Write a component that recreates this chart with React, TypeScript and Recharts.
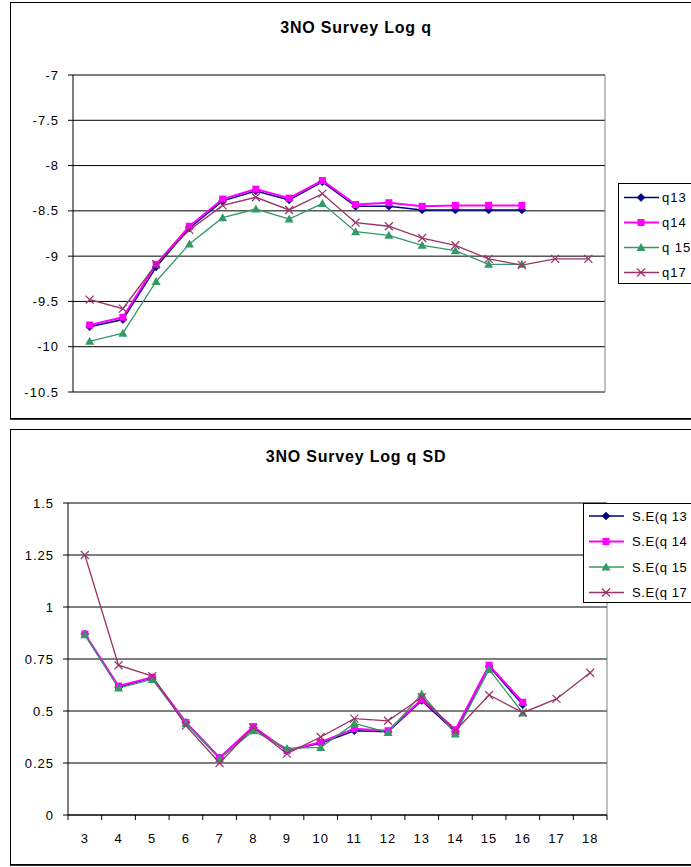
import React from 'react';
import { LineChart, Line, XAxis, YAxis, CartesianGrid, ReferenceLine } from 'recharts';

const categories = [3, 4, 5, 6, 7, 8, 9, 10, 11, 12, 13, 14, 15, 16, 17, 18];

const logQ13 = [-9.78, -9.7, -9.12, -8.69, -8.39, -8.28, -8.38, -8.18, -8.45, -8.45, -8.49, -8.49, -8.49, -8.49, null, null];
const logQ14 = [-9.76, -9.675, -9.09, -8.67, -8.37, -8.26, -8.36, -8.165, -8.43, -8.41, -8.45, -8.44, -8.44, -8.44, null, null];
const logQ15 = [-9.94, -9.85, -9.28, -8.865, -8.575, -8.48, -8.59, -8.42, -8.73, -8.77, -8.88, -8.94, -9.09, -9.09, null, null];
const logQ17 = [-9.48, -9.58, -9.09, -8.71, -8.44, -8.35, -8.49, -8.31, -8.63, -8.67, -8.8, -8.88, -9.03, -9.1, -9.03, -9.03];

const sdQ13 = [0.87, 0.615, 0.66, 0.445, 0.275, 0.42, 0.31, 0.345, 0.405, 0.4, 0.55, 0.4, 0.715, 0.53, null, null];
const sdQ14 = [0.87, 0.62, 0.662, 0.445, 0.275, 0.425, 0.31, 0.35, 0.415, 0.405, 0.556, 0.41, 0.72, 0.542, null, null];
const sdQ15 = [0.866, 0.61, 0.652, 0.44, 0.27, 0.405, 0.32, 0.325, 0.44, 0.397, 0.582, 0.39, 0.7, 0.49, null, null];
const sdQ17 = [1.25, 0.72, 0.668, 0.43, 0.25, 0.42, 0.295, 0.375, 0.463, 0.453, 0.566, 0.405, 0.577, 0.492, 0.558, 0.684];

const logTicks = [-10.5, -10, -9.5, -9, -8.5, -8, -7.5, -7];
const sdTicks = [0, 0.25, 0.5, 0.75, 1, 1.25, 1.5];

const topTitle = '3NO Survey Log q';
const bottomTitle = '3NO Survey Log q SD';
const topNames = ['q13', 'q14', 'q 15', 'q17'];
const bottomNames = ['S.E(q 13', 'S.E(q 14', 'S.E(q 15', 'S.E(q 17'];
const seriesKeys = ['q13', 'q14', 'q15', 'q17'];
const colors = ['#000080', '#FF00FF', '#339966', '#993366'];
const shapes = ['diamond', 'square', 'triangle', 'cross'];
const widths = [1.5, 2, 1.3, 1.3];

const FONT = 'Liberation Sans, Arial, sans-serif';

const xMin = categories[0] - 0.5;
const xMax = categories[categories.length - 1] + 0.5;
const xTicks = [...categories, ...categories.map((c) => c - 0.5), xMax].sort((a, b) => a - b);

const topData = categories.map((c, i) => ({ x: c, q13: logQ13[i], q14: logQ14[i], q15: logQ15[i], q17: logQ17[i] }));
const bottomData = categories.map((c, i) => ({ x: c, q13: sdQ13[i], q14: sdQ14[i], q15: sdQ15[i], q17: sdQ17[i] }));

function Marker({ shape, color, cx, cy }: { shape: string; color: string; cx: number; cy: number }) {
  if (shape === 'diamond') {
    return <polygon points={`${cx},${cy - 4} ${cx + 4},${cy} ${cx},${cy + 4} ${cx - 4},${cy}`} fill={color} stroke={color} strokeWidth={0.5} />;
  }
  if (shape === 'square') {
    return <rect x={cx - 3.5} y={cy - 3.5} width={7} height={7} fill={color} />;
  }
  if (shape === 'triangle') {
    return <polygon points={`${cx},${cy - 4.5} ${cx + 4.5},${cy + 3.5} ${cx - 4.5},${cy + 3.5}`} fill={color} />;
  }
  return (
    <g stroke={color} strokeWidth={1.2}>
      <line x1={cx - 4} y1={cy - 4} x2={cx + 4} y2={cy + 4} />
      <line x1={cx - 4} y1={cy + 4} x2={cx + 4} y2={cy - 4} />
    </g>
  );
}

const makeDot = (shape: string, color: string) => (p: any) => {
  const k = `${shape}-${p.index}`;
  if (p.cx == null || p.cy == null || p.value == null || (Array.isArray(p.value) && p.value[1] == null)) return <g key={k} />;
  return (
    <g key={k}>
      <Marker shape={shape} color={color} cx={p.cx} cy={p.cy} />
    </g>
  );
};

const catTick = (props: any) => {
  const { x, y, payload } = props;
  const v = payload.value;
  if (Number.isInteger(v)) {
    return (
      <text x={x} y={y + 23} dy="0.355em" textAnchor="middle" fill="#000" fontSize={13} fontFamily={FONT} letterSpacing={1}>
        {v}
      </text>
    );
  }
  return <line x1={x} y1={y} x2={x} y2={y + 5} stroke="#000" />;
};

const yTickStyle = { fill: '#000', fontSize: 13, fontFamily: FONT, letterSpacing: 1 };

function LegendBox({ left, top, height, names, firstY, gap, textX, spacing }: any) {
  return (
    <div style={{ position: 'absolute', left, top, width: 120, height, border: '1px solid #000', background: '#fff', boxSizing: 'border-box' }}>
      <svg width={120} height={height} style={{ position: 'absolute', left: -1, top: -1 }}>
        {names.map((n: string, i: number) => {
          const y = firstY + i * gap;
          return (
            <g key={n}>
              <line x1={6} y1={y} x2={41} y2={y} stroke={colors[i]} strokeWidth={widths[i]} />
              <Marker shape={shapes[i]} color={colors[i]} cx={23} cy={y} />
              <text x={textX} y={y} dy="0.355em" fontSize={13} fontFamily={FONT} letterSpacing={spacing} fill="#000">
                {n}
              </text>
            </g>
          );
        })}
      </svg>
    </div>
  );
}

function renderLines() {
  return seriesKeys.map((k, i) => (
    <Line
      key={k}
      type="linear"
      dataKey={k}
      stroke={colors[i]}
      strokeWidth={widths[i]}
      dot={makeDot(shapes[i], colors[i])}
      activeDot={false}
      isAnimationActive={false}
    />
  ));
}

export default function App() {
  return (
    <div style={{ position: 'absolute', left: 0, top: 0, width: 691, height: 867, overflow: 'hidden', background: '#fff' }}>
      <svg width={691} height={867} style={{ position: 'absolute', left: 0, top: 0 }}>
        <rect x={10.5} y={2.5} width={720} height={416} fill="#fff" stroke="#000" />
        <line x1={10} y1={419.5} x2={720} y2={419.5} stroke="#333" />
        <rect x={10.5} y={429.5} width={720} height={435} fill="#fff" stroke="#000" />
        <line x1={10} y1={865.5} x2={720} y2={865.5} stroke="#333" />
        <text x={356} y={27} dy="0.355em" textAnchor="middle" fontSize={16} fontWeight="bold" fontFamily={FONT} letterSpacing={0.8}>
          {topTitle}
        </text>
        <text x={356} y={456} dy="0.355em" textAnchor="middle" fontSize={16} fontWeight="bold" fontFamily={FONT} letterSpacing={0.8}>
          {bottomTitle}
        </text>
      </svg>

      <div style={{ position: 'absolute', left: 0, top: 0 }}>
        <LineChart width={691} height={400} data={topData} margin={{ top: 75, right: 86, bottom: 8, left: 0 }}>
          <CartesianGrid vertical={false} stroke="#000" />
          <XAxis
            dataKey="x"
            type="number"
            domain={[xMin, xMax]}
            ticks={xTicks}
            interval={0}
            orientation="top"
            mirror
            height={0}
            tickSize={0}
            tickMargin={0}
            tickLine={false}
            axisLine={{ stroke: '#000' }}
            tick={catTick}
          />
          <YAxis
            type="number"
            domain={[logTicks[0], logTicks[logTicks.length - 1]]}
            ticks={logTicks}
            interval={0}
            width={73}
            tickSize={5}
            tickMargin={9}
            axisLine={{ stroke: '#000' }}
            tickLine={{ stroke: '#000' }}
            tick={yTickStyle}
          />
          <ReferenceLine x={xMax} stroke="#808080" />
          <ReferenceLine y={logTicks[0]} stroke="#808080" />
          {renderLines()}
        </LineChart>
      </div>

      <div style={{ position: 'absolute', left: 0, top: 430 }}>
        <LineChart width={691} height={430} data={bottomData} margin={{ top: 73, right: 84, bottom: 15, left: 0 }}>
          <CartesianGrid vertical={false} stroke="#000" />
          <XAxis
            dataKey="x"
            type="number"
            domain={[xMin, xMax]}
            ticks={xTicks}
            interval={0}
            height={30}
            tickSize={0}
            tickMargin={0}
            tickLine={false}
            axisLine={{ stroke: '#000' }}
            tick={catTick}
          />
          <YAxis
            type="number"
            domain={[sdTicks[0], sdTicks[sdTicks.length - 1]]}
            ticks={sdTicks}
            interval={0}
            width={68}
            tickSize={5}
            tickMargin={9}
            axisLine={{ stroke: '#000' }}
            tickLine={{ stroke: '#000' }}
            tick={yTickStyle}
          />
          <ReferenceLine x={xMax} stroke="#808080" />
          <ReferenceLine y={sdTicks[sdTicks.length - 1]} stroke="#808080" />
          {renderLines()}
        </LineChart>
      </div>

      <LegendBox left={618} top={183} height={101} names={topNames} firstY={14.5} gap={25} textX={44} spacing={1} />
      <LegendBox left={583} top={503} height={100} names={bottomNames} firstY={13} gap={25.5} textX={49} spacing={0.6} />
    </div>
  );
}
